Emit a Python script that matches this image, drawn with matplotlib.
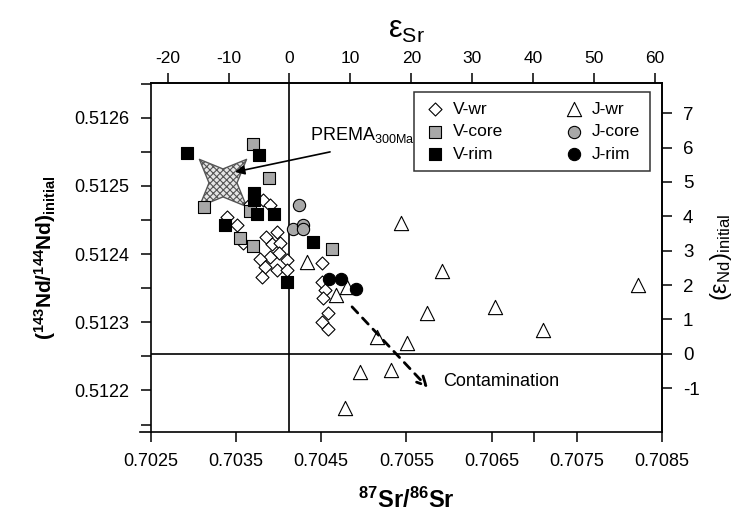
import matplotlib
matplotlib.use('Agg')
import matplotlib.pyplot as plt
from matplotlib.path import Path
from matplotlib.transforms import Affine2D

plt.rcParams['font.family'] = ['Liberation Sans', 'DejaVu Sans']
plt.rcParams['mathtext.fontset'] = 'custom'
plt.rcParams['mathtext.rm'] = 'Liberation Sans'
plt.rcParams['mathtext.it'] = 'Liberation Sans:italic'
plt.rcParams['mathtext.bf'] = 'Liberation Sans:bold'
plt.rcParams['axes.unicode_minus'] = False
plt.rcParams['hatch.color'] = '#707070'
plt.rcParams['hatch.linewidth'] = 0.8

# V-wr (whole rock, diamonds)
vwr_sr = [0.703397, 0.703515, 0.703589, 0.703667, 0.703820, 0.703901, 0.703858,
          0.703987, 0.703922, 0.704019, 0.704011, 0.703902, 0.703784, 0.704098,
          0.703843, 0.703987, 0.704098, 0.703804, 0.704508, 0.704508, 0.704547,
          0.704527, 0.704586, 0.704508, 0.704586]
vwr_nd = [0.5124545, 0.5124428, 0.5124160, 0.5124736, 0.5124795, 0.5124720, 0.5124248,
          0.5124330, 0.5124145, 0.5124169, 0.5124013, 0.5123963, 0.5123925, 0.5123915,
          0.5123817, 0.5123768, 0.5123768, 0.5123661, 0.5123867, 0.5123597, 0.5123475,
          0.5123353, 0.5123138, 0.5123010, 0.5122899]

# V-core (grey squares)
vcore_sr = [0.703702, 0.703890, 0.703128, 0.703667, 0.703550, 0.703702, 0.704629]
vcore_nd = [0.5125616, 0.5125117, 0.5124692, 0.5124633, 0.5124238, 0.5124120, 0.5124076]

# V-rim (black squares)
vrim_sr = [0.702928, 0.703773, 0.703714, 0.703714, 0.703749, 0.703949, 0.703374,
           0.704406, 0.704101]
vrim_nd = [0.5125484, 0.5125455, 0.5124897, 0.5124795, 0.5124589, 0.5124589, 0.5124428,
           0.5124179, 0.5123592]

# J-wr (whole rock, triangles)
jwr_sr = [0.704339, 0.704676, 0.704805, 0.705438, 0.705916, 0.705740, 0.706541,
          0.707104, 0.708219, 0.705160, 0.705505, 0.704958, 0.705318, 0.704782]
jwr_nd = [0.5123890, 0.5123402, 0.5123519, 0.5124462, 0.5123758, 0.5123133, 0.5123221,
          0.5122889, 0.5123546, 0.5122782, 0.5122694, 0.5122277, 0.5122302, 0.5121749]

# J-core (grey circles)
jcore_sr = [0.704242, 0.704172, 0.704289, 0.704289]
jcore_nd = [0.5124721, 0.5124370, 0.5124428, 0.5124370]

# J-rim (black circles)
jrim_sr = [0.704594, 0.704735, 0.704911]
jrim_nd = [0.5123636, 0.5123636, 0.5123490]

prema_sr, prema_nd = 0.703350, 0.5125044

# epsilon reference values (300 Ma)
SR0, SR_PER_EPS = 0.70413, 7.144e-5
ND0, ND_PER_EPS = 0.5122537, 5.044e-5


def sr_to_eps(x):
    return (x - SR0) / SR_PER_EPS


def eps_to_sr(e):
    return SR0 + e * SR_PER_EPS


def nd_to_eps(y):
    return (y - ND0) / ND_PER_EPS


def eps_to_nd(e):
    return ND0 + e * ND_PER_EPS


fig = plt.figure(figsize=(7.43, 5.18), dpi=100)
ax = fig.add_axes([0.2026, 0.166, 0.6884, 0.6738])

ax.axhline(ND0, color='black', lw=1.2, zorder=1)
ax.axvline(SR0, color='black', lw=1.2, zorder=1)

grey = '#a8a8a8'
kw = dict(edgecolors='black', linewidths=0.8, zorder=3)
h_vwr = ax.scatter(vwr_sr, vwr_nd, marker='D', s=44, facecolors='white', label='V-wr', **kw)
h_jwr = ax.scatter(jwr_sr, jwr_nd, marker='^', s=105, facecolors='white', label='J-wr', **kw)
h_vcore = ax.scatter(vcore_sr, vcore_nd, marker='s', s=82, facecolors=grey, label='V-core', **kw)
h_vrim = ax.scatter(vrim_sr, vrim_nd, marker='s', s=82, facecolors='black', label='V-rim', **kw)
h_jcore = ax.scatter(jcore_sr, jcore_nd, marker='o', s=78, facecolors=grey, label='J-core', **kw)
h_jrim = ax.scatter(jrim_sr, jrim_nd, marker='o', s=78, facecolors='black', label='J-rim', **kw)

star = Path.unit_regular_star(4, innerCircle=0.42).transformed(Affine2D().rotate_deg(45))
ax.scatter([prema_sr], [prema_nd], marker=star, s=1150, facecolors='#e6e6e6',
           edgecolors='#555555', linewidths=1.0, hatch='xxxxx', zorder=2)

ax.annotate('', xy=(0.703491, 0.5125205), xytext=(0.704606, 0.5125499),
            arrowprops=dict(arrowstyle='-|>', color='black', lw=1.2,
                            mutation_scale=14, shrinkA=0, shrinkB=0), zorder=4)
ax.text(0.704371, 0.512575, r'PREMA$_{\mathregular{300Ma}}$', fontsize=13,
        ha='left', va='center')

ax.annotate('', xy=(0.705755, 0.5122038), xytext=(0.704864, 0.5123226),
            arrowprops=dict(arrowstyle='->', color='black', lw=2.0, ls=(0, (3, 2.5)),
                            mutation_scale=16, shrinkA=0, shrinkB=0), zorder=4)
ax.text(0.705931, 0.5122126, 'Contamination', fontsize=13, ha='left', va='center')

ax.set_xlim(0.7025, 0.7085)
ax.set_ylim(0.512139, 0.512651)
ax.set_xticks([0.7025, 0.7035, 0.7045, 0.7055, 0.7065, 0.7075, 0.7085])
ax.set_xticks([0.7070], minor=True)
ax.set_yticks([0.5122, 0.5123, 0.5124, 0.5125, 0.5126])
ax.set_yticks([0.51215, 0.51225, 0.51235, 0.51245, 0.51255, 0.51265], minor=True)
ax.set_yticklabels(['0.5122', '0.5123', '0.5124', '0.5125', '0.5126'])
ax.set_xticklabels(['0.7025', '0.7035', '0.7045', '0.7055', '0.7065', '0.7075', '0.7085'])
ax.tick_params(which='both', direction='out', length=7, width=1.1, labelsize=13, pad=8)
for sp in ax.spines.values():
    sp.set_linewidth(1.2)
ax.spines['bottom'].set_bounds(0.7025 - 11 / 85250, 0.7085)

secx = ax.secondary_xaxis('top', functions=(sr_to_eps, eps_to_sr))
secx.set_xticks(range(-20, 61, 10))
secx.tick_params(direction='out', length=7, width=1.1, labelsize=12.5, pad=5)
secx.spines['top'].set_linewidth(1.2)
secx.set_xlabel(r'ε$_{\mathregular{Sr}}$', fontsize=22, labelpad=10)

secy = ax.secondary_yaxis('right', functions=(nd_to_eps, eps_to_nd))
secy.set_yticks(range(-1, 8))
secy.tick_params(direction='out', length=7, width=1.1, labelsize=13.5, pad=8)
secy.spines['right'].set_linewidth(1.2)
secy.set_ylabel(r'(ε$_{\mathregular{Nd}}$)$_{\mathregular{initial}}$', fontsize=17, labelpad=6)

ax.set_xlabel(r'$\mathbf{^{87}Sr/^{86}Sr}$', fontsize=17, labelpad=13)
ax.set_ylabel(r'$\mathbf{(^{143}Nd/^{144}Nd)_{initial}}$', fontsize=15, labelpad=12)

leg = ax.legend(handles=[h_vwr, h_vcore, h_vrim, h_jwr, h_jcore, h_jrim],
                ncol=2, loc='upper right', bbox_to_anchor=(0.9765, 0.974),
                borderaxespad=0, fontsize=12.5, frameon=True, fancybox=False,
                edgecolor='black', handletextpad=0.4, columnspacing=3.4,
                labelspacing=0.42, borderpad=0.55, handlelength=1.3)
leg.get_frame().set_linewidth(1.1)

fig.savefig('out.png', dpi=100)
